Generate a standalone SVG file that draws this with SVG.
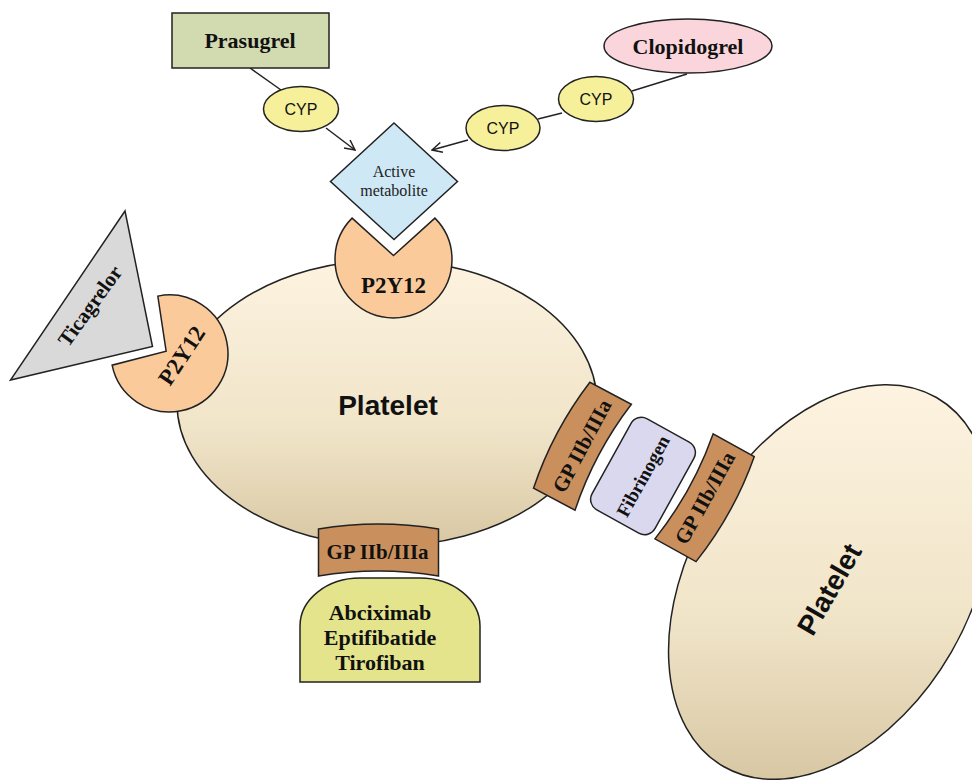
<svg xmlns="http://www.w3.org/2000/svg" width="972" height="780" viewBox="0 0 972 780">
<style>
.ln{stroke:#222;stroke-width:1.5;fill:none}
.sh{stroke:#222;stroke-width:1.5}
.ser{font-family:"Liberation Serif","Times New Roman",serif;font-weight:bold;fill:#111;text-anchor:middle}
.reg{font-family:"Liberation Serif","Times New Roman",serif;font-weight:normal;fill:#222;text-anchor:middle}
.san{font-family:"Liberation Sans",Arial,sans-serif;fill:#111;text-anchor:middle}
.cyp{fill:#f6f09b}
.p2y{fill:#fbca9b}
.gp{fill:#c98f5d}
</style>
<defs>
<linearGradient id="g1" gradientUnits="userSpaceOnUse" x1="0" y1="260" x2="0" y2="546">
<stop offset="0" stop-color="#fdf3e0"/><stop offset="0.6" stop-color="#f0e4c8"/><stop offset="1" stop-color="#d8c7a3"/>
</linearGradient>
<linearGradient id="g2" gradientUnits="userSpaceOnUse" x1="0" y1="385" x2="0" y2="780">
<stop offset="0" stop-color="#fdf3e0"/><stop offset="0.6" stop-color="#f0e4c8"/><stop offset="1" stop-color="#d8c7a3"/>
</linearGradient>
<marker id="arr" viewBox="0 0 12 12" refX="11" refY="6" markerWidth="12" markerHeight="12" markerUnits="userSpaceOnUse" orient="auto">
<path d="M1,1 L11,6 L1,11" fill="none" stroke="#222" stroke-width="1.5"/>
</marker>
<path id="gpShape" d="M-60,-23 Q0,-33 60,-23 L60,24 Q0,14 -60,24 Z"/>
<path id="pac" d="M0,-4 L41.4,-41.4 A58.5,58.5 0 1 1 -41.4,-41.4 Z"/>
</defs>

<g id="connectors">
<line class="ln" x1="250" y1="68" x2="281" y2="90"/>
<line class="ln" x1="326" y1="128" x2="355" y2="150" marker-end="url(#arr)"/>
<line class="ln" x1="687" y1="74" x2="632" y2="91"/>
<line class="ln" x1="562" y1="113" x2="538" y2="119"/>
<line class="ln" x1="468" y1="140" x2="432" y2="150" marker-end="url(#arr)"/>
</g>

<g id="platelet1">
<ellipse class="sh" cx="387" cy="403" rx="210" ry="143" fill="url(#g1)"/>
<text class="san" x="388" y="415" font-size="28" font-weight="bold">Platelet</text>
</g>

<g id="platelet2">
<path class="sh" fill="url(#g2)" d="M936.5,397.5 A213,140 -60 1 1 723.5,766.5 A213,140 -60 1 1 936.5,397.5 Z"/>
<text class="san" font-size="28" font-weight="bold" transform="translate(829,589) rotate(-60)" x="0" y="10">Platelet</text>
</g>

<g id="prasugrel">
<rect class="sh" x="172" y="13" width="157" height="55" fill="#d2dbb0"/>
<text class="ser" x="250" y="48" font-size="22">Prasugrel</text>
</g>

<g id="clopidogrel">
<ellipse class="sh" cx="688" cy="46" rx="84" ry="27" fill="#fad6dc"/>
<text class="ser" x="688" y="54" font-size="22">Clopidogrel</text>
</g>

<g id="cyp1">
<ellipse class="sh cyp" cx="301" cy="109" rx="37.5" ry="22.5"/>
<text class="san" x="301" y="115" font-size="16">CYP</text>
</g>
<g id="cyp2">
<ellipse class="sh cyp" cx="596" cy="99" rx="37.5" ry="22.5"/>
<text class="san" x="596" y="105" font-size="16">CYP</text>
</g>
<g id="cyp3">
<ellipse class="sh cyp" cx="503" cy="128" rx="37" ry="22.5"/>
<text class="san" x="503" y="134" font-size="16">CYP</text>
</g>

<g id="active-metabolite">
<polygon class="sh" points="394,123 457.5,181.5 394,239.5 330.5,181.5" fill="#cfe8f6"/>
<text class="reg" x="394" y="177" font-size="16">Active</text>
<text class="reg" x="394" y="196" font-size="16">metabolite</text>
</g>

<g id="p2y12-top" transform="translate(393.5,259.5)">
<use href="#pac" class="sh p2y"/>
<text class="ser" x="0" y="33.5" font-size="23">P2Y12</text>
</g>

<g id="ticagrelor">
<polygon class="sh" points="125,211 152.5,346.5 10.5,380" fill="#d9d9d9"/>
<text class="ser" font-size="21" transform="translate(90,306) rotate(-54)" x="0" y="7">Ticagrelor</text>
</g>

<g id="p2y12-left" transform="translate(169.5,353.5) rotate(-56.5)">
<use href="#pac" class="sh p2y"/>
<text class="ser" x="5" y="19" font-size="23">P2Y12</text>
</g>

<g id="gp-bottom" transform="translate(378.5,552)">
<use href="#gpShape" class="sh gp"/>
<text class="ser" x="-1" y="7" font-size="21">GP IIb/IIIa</text>
</g>

<g id="gp-left" transform="translate(582,446) rotate(-62)">
<use href="#gpShape" class="sh gp"/>
<text class="ser" x="0" y="7" font-size="21">GP IIb/IIIa</text>
</g>

<g id="fibrinogen" transform="translate(643,476) rotate(-61)">
<rect class="sh" x="-52" y="-36" width="104" height="72" rx="12" fill="#dad8ee"/>
<text class="ser" x="0" y="6.5" font-size="19">Fibrinogen</text>
</g>

<g id="gp-right" transform="translate(705,498) rotate(-61)">
<use href="#gpShape" class="sh gp" transform="scale(1,-1)"/>
<text class="ser" x="0" y="7" font-size="21">GP IIb/IIIa</text>
</g>

<g id="inhibitors">
<path class="sh" d="M300,682 L300,626 A60,48 0 0 1 360,578 L420,578 A60,48 0 0 1 480,626 L480,682 Z" fill="#e3e48b"/>
<text class="ser" x="380" y="620" font-size="22">Abciximab</text>
<text class="ser" x="380" y="645" font-size="22">Eptifibatide</text>
<text class="ser" x="380" y="670" font-size="22">Tirofiban</text>
</g>
</svg>
